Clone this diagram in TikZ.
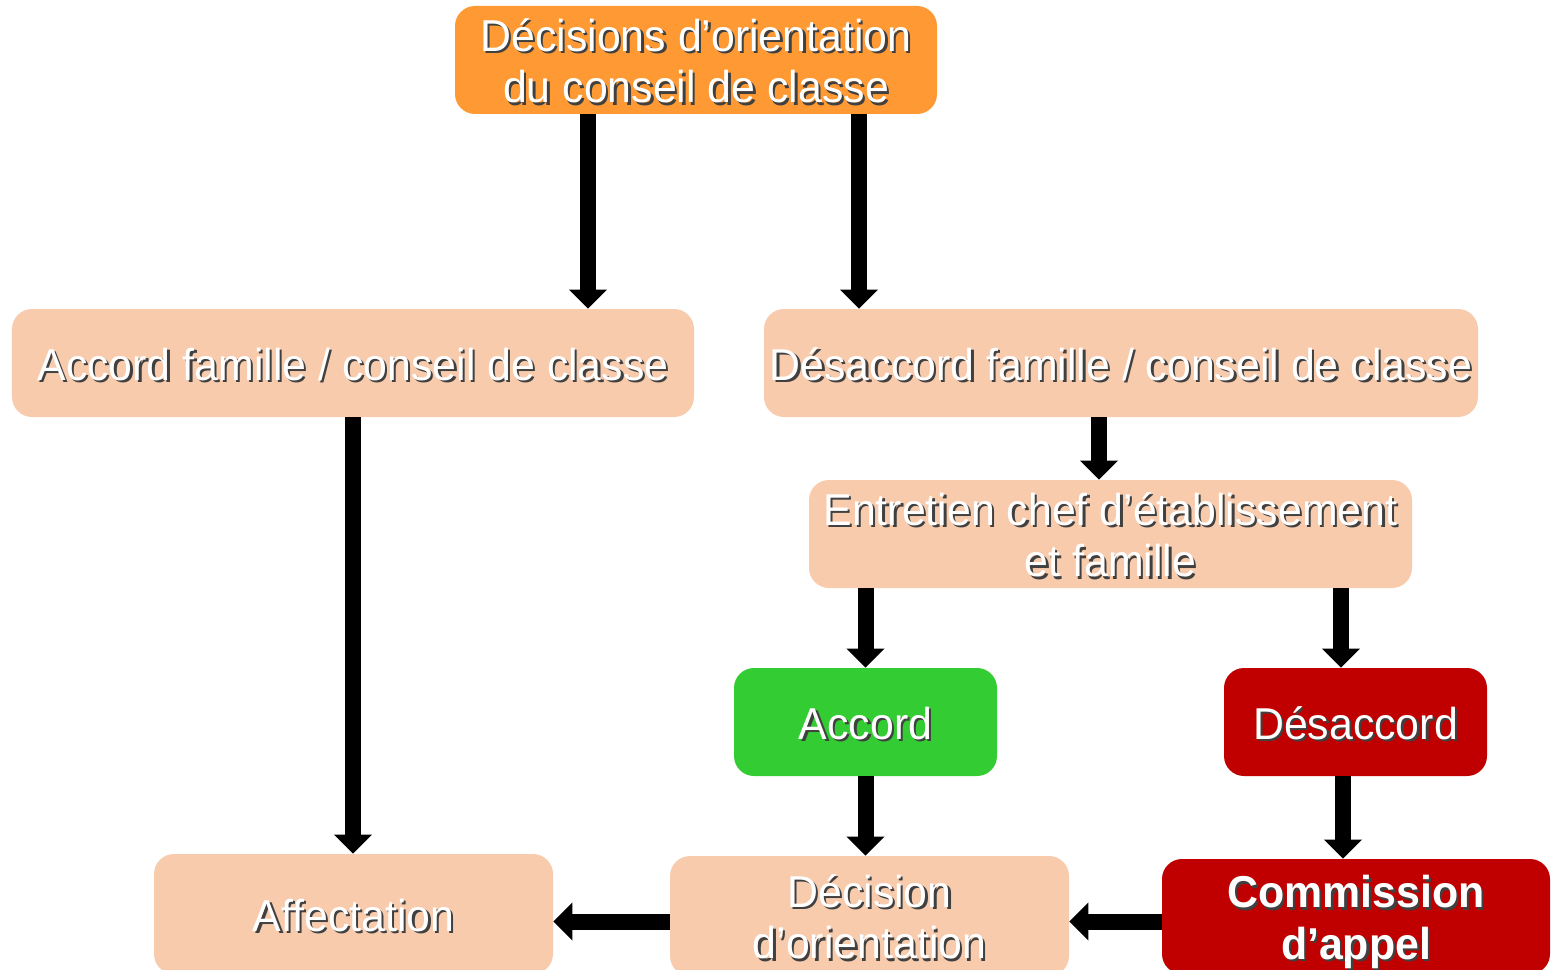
\documentclass[tikz,border=0pt]{standalone}
\usepackage{fontspec}
\usepackage{graphicx}
\setmainfont{Liberation Sans}
\usetikzlibrary{arrows.meta}

\definecolor{orangebox}{HTML}{FF9933}
\definecolor{peachbox}{HTML}{F8CBAD}
\definecolor{greenbox}{HTML}{33CC33}
\definecolor{redbox}{HTML}{C00000}

% white text with a small dark shadow
\newcommand{\shtext}[2][0.96]{%
  \raisebox{-4.5pt}[\height][\depth]{\scalebox{#1}[1]{\makebox[0pt][l]{\kern1.4pt\raisebox{-1.4pt}{\color{black!75}\begin{tabular}{@{}c@{}}#2\end{tabular}}}%
  \begin{tabular}{@{}c@{}}#2\end{tabular}}}}

\begin{document}
\begin{tikzpicture}[
  box/.style={rounded corners=0.4cm,fill=peachbox,text=white,inner sep=0pt,
    minimum height=2.16cm,font=\fontsize{25.4}{29.5}\selectfont},
  flow/.style={line width=0.32cm,-{Triangle[width=0.74cm,length=0.38cm]}}
]

\useasboundingbox (0,0) rectangle (31.02,-19.4);

% top row
\node[box,fill=orangebox,minimum width=9.64cm] (top) at (13.92,-1.2)
  {\shtext{Décisions d’orientation\\du conseil de classe}};

% second row
\node[box,minimum width=13.64cm] (accf) at (7.06,-7.26)
  {\shtext{Accord famille / conseil de classe}};
\node[box,minimum width=14.28cm] (desf) at (22.42,-7.26)
  {\shtext{Désaccord famille / conseil de classe}};

\node[box,minimum width=12.06cm] (ent) at (22.21,-10.68)
  {\shtext{Entretien chef d’établissement\\et famille}};

\node[box,fill=greenbox,minimum width=5.26cm] (acc) at (17.31,-14.44)
  {\shtext{Accord}};
\node[box,fill=redbox,minimum width=5.26cm] (des) at (27.11,-14.44)
  {\shtext{Désaccord}};

% bottom row (cut by the page edge)
\node[box,minimum width=7.98cm,minimum height=2.4cm] (aff) at (7.07,-18.28)
  {\shtext{Affectation}};
\node[box,minimum width=7.98cm,minimum height=2.4cm] (dec) at (17.39,-18.32)
  {\shtext{Décision\\d’orientation}};
\node[box,fill=redbox,minimum width=7.76cm,minimum height=2.3cm] (com) at (27.12,-18.33)
  {\shtext{\bfseries Commission\\\bfseries d’appel}};

% arrows
\draw[flow] ([xshift=-2.16cm]top.south) -- ([xshift=-2.16cm]top.south |- accf.north);
\draw[flow] ([xshift=3.26cm]top.south) -- ([xshift=3.26cm]top.south |- desf.north);
\draw[flow] (accf.south) -- (accf.south |- aff.north);
\draw[flow] ([xshift=-0.44cm]desf.south) -- ([xshift=-0.44cm]desf.south |- ent.north);
\draw[flow] (acc.north |- ent.south) -- (acc.north);
\draw[flow] ([xshift=-0.29cm]des.north |- ent.south) -- ([xshift=-0.29cm]des.north);
\draw[flow] (acc.south) -- (acc.south |- dec.north);
\draw[flow] ([xshift=-0.25cm]des.south) -- ([xshift=-0.25cm]des.south |- com.north);
\draw[flow] ([yshift=-0.1cm]com.west) -- ([yshift=-0.1cm]com.west -| dec.east);
\draw[flow] ([yshift=-0.1cm]dec.west |- com.west) -- ([yshift=-0.1cm]com.west -| aff.east);

\end{tikzpicture}
\end{document}
